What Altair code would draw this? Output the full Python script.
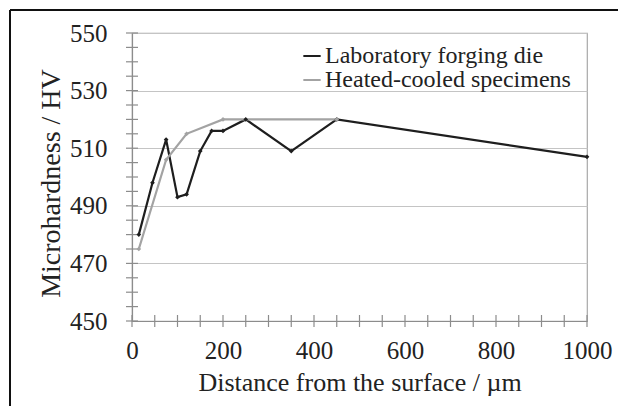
import altair as alt
import pandas as pd

# ---- data ----
series_names = ["Laboratory forging die", "Heated-cooled specimens"]
lab_x = [15, 45, 75, 100, 120, 150, 175, 200, 250, 350, 450, 1000]
lab_y = [480, 498, 513, 493, 494, 509, 516, 516, 520, 509, 520, 507]
heat_x = [15, 75, 120, 200, 450]
heat_y = [475, 506, 515, 520, 520]
y_label_values = [450, 470, 490, 510, 530, 550]
x_label_values = [0, 200, 400, 600, 800, 1000]
y_minor_ticks = list(range(450, 551, 5))
x_minor_ticks = list(range(0, 1001, 50))

rows = []
for x, y in zip(lab_x, lab_y):
    rows.append({"x": x, "y": y, "series": series_names[0]})
for x, y in zip(heat_x, heat_y):
    rows.append({"x": x, "y": y, "series": series_names[1]})
df = pd.DataFrame(rows)

FONT = "Liberation Serif"
W, H = 455, 288
COLORS = ["#1e1e1e", "#a3a3a3"]

xscale = alt.Scale(domain=[0, 1000], nice=False, zero=False)
yscale = alt.Scale(domain=[450, 550], nice=False, zero=False)
color = alt.Color(
    "series:N",
    scale=alt.Scale(domain=series_names, range=COLORS),
    legend=alt.Legend(
        title=None,
        orient="none",
        legendX=168,
        legendY=11,
        symbolType="stroke",
        symbolSize=300,
        symbolStrokeWidth=2,
        labelFont=FONT,
        labelFontSize=24,
        labelColor="#222222",
        labelLimit=400,
        labelOffset=1,
        rowPadding=-1,
    ),
)

lines = alt.Chart(df).mark_line(strokeWidth=2.2).encode(
    x=alt.X(
        "x:Q",
        scale=xscale,
        axis=alt.Axis(
            values=x_label_values,
            format="d",
            title="Distance from the surface / µm",
            ticks=False,
            grid=False,
            labelFont=FONT,
            labelFlush=False,
            labelPadding=17,
            titlePadding=6,
        ),
    ),
    y=alt.Y(
        "y:Q",
        scale=yscale,
        axis=alt.Axis(
            values=y_label_values,
            format="d",
            title="Microhardness / HV",
            ticks=False,
            grid=True,
            labelFont=FONT,
            labelFlush=False,
            labelPadding=25,
            titlePadding=4,
            titleFontSize=28,
            titleY=150,
        ),
    ),
    color=color,
    order="x:Q",
)

points = alt.Chart(df).mark_point(filled=True, shape="diamond", size=22, opacity=1).encode(
    x=alt.X("x:Q", scale=xscale),
    y=alt.Y("y:Q", scale=yscale),
    color=alt.Color("series:N", scale=alt.Scale(domain=series_names, range=COLORS), legend=None),
)

ytick_df = pd.DataFrame({"v": y_minor_ticks})
xtick_df = pd.DataFrame({"v": x_minor_ticks})

yticks = alt.Chart(ytick_df).mark_rule(color="#8c8c8c", strokeWidth=1.2).encode(
    y=alt.Y("v:Q", scale=yscale),
    x=alt.value(-6),
    x2=alt.value(6),
)
xticks = alt.Chart(xtick_df).mark_rule(color="#8c8c8c", strokeWidth=1.2).encode(
    x=alt.X("v:Q", scale=xscale),
    y=alt.value(H - 6),
    y2=alt.value(H + 6),
)

border_top = alt.Chart(pd.DataFrame({"a": [0]})).mark_rule(color="#111111", strokeWidth=2).encode(
    x=alt.value(-122), x2=alt.value(W + 40), y=alt.value(-23)
)
border_left = alt.Chart(pd.DataFrame({"a": [0]})).mark_rule(color="#111111", strokeWidth=2).encode(
    x=alt.value(-122), y=alt.value(-23), y2=alt.value(H + 90)
)

chart = (
    alt.layer(yticks, xticks, lines, points, border_top, border_left)
    .properties(
        width=W,
        height=H,
        autosize=alt.AutoSizeParams(type="none"),
        padding={"left": 132, "top": 33, "right": 31, "bottom": 85},
        background="white",
    )
    .configure(font=FONT)
    .configure_view(stroke="#a8a8a8", strokeWidth=1.2)
    .configure_axis(
        labelFont=FONT,
        titleFont=FONT,
        labelFontSize=25,
        titleFontSize=26,
        labelColor="#222222",
        titleColor="#222222",
        titleFontWeight="normal",
        domainColor="#8c8c8c",
        domainWidth=1.2,
        gridColor="#c4c4c4",
        gridWidth=1.2,
        labelOverlap=False,
    )
    .configure_legend(labelFont=FONT)
)

chart.save("out.html", embed_options={"renderer": "svg", "actions": False})
